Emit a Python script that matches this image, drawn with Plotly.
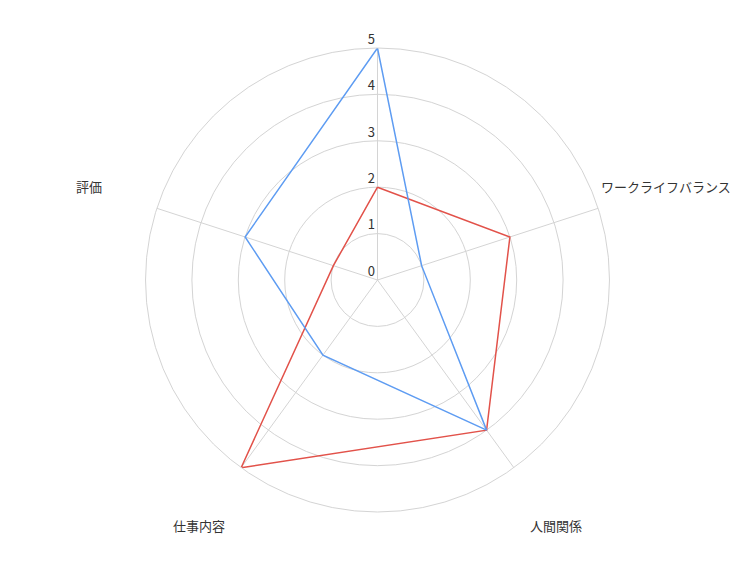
import math
import plotly.graph_objects as go

# categories, clockwise from the top (the top label sits off-canvas in the original)
categories = ["", "ワークライフバランス", "人間関係", "仕事内容", "評価"]
series_blue = [5, 1, 4, 2, 3]
series_red = [2, 3, 4, 5, 1]
radial_ticks = [0, 1, 2, 3, 4, 5]

blue = "#5e9cf2"
red = "#e2524a"
grid = "#d4d4d4"

W, H = 753, 565
margin = dict(l=73, r=87, t=40, b=61)
plot_w = W - margin["l"] - margin["r"]
plot_h = H - margin["t"] - margin["b"]
label_dist = 303  # px from centre, beyond the outer ring like the original

theta_keys = [c if c else "_top" for c in categories]

fig = go.Figure()

for vals, col in [(series_red, red), (series_blue, blue)]:
    fig.add_trace(go.Scatterpolar(
        r=vals + vals[:1],
        theta=theta_keys + theta_keys[:1],
        mode="lines",
        line=dict(color=col, width=1.5),
        hoverinfo="skip",
    ))

# category labels, placed around the chart
for i, name in enumerate(categories):
    if not name:
        continue
    a = math.radians(90 - 360 / len(categories) * i)
    fig.add_annotation(
        xref="paper", yref="paper",
        x=0.5 + label_dist * math.cos(a) / plot_w,
        y=0.5 + label_dist * math.sin(a) / plot_h,
        text=name, showarrow=False,
        xanchor="center", yanchor="middle",
        font=dict(size=13, color="#333333"),
    )

fig.update_layout(
    width=W,
    height=H,
    showlegend=False,
    paper_bgcolor="white",
    font=dict(family="Noto Sans CJK JP, Noto Sans, sans-serif", size=13, color="#333333"),
    margin=margin,
    polar=dict(
        bgcolor="white",
        radialaxis=dict(
            range=[0, 5],
            tickvals=radial_ticks,
            # trailing blank line lifts each label just above its ring
            ticktext=[f"{v}<br> " for v in radial_ticks],
            angle=90,
            tickangle=90,
            side="counterclockwise",
            showline=False,
            gridcolor=grid,
            gridwidth=1,
            ticks="",
            tickfont=dict(size=13, color="#333333"),
        ),
        angularaxis=dict(
            rotation=90,
            direction="clockwise",
            showticklabels=False,
            ticks="",
            gridcolor=grid,
            linecolor=grid,
            linewidth=1,
        ),
    ),
)

fig.write_html("out.html")
